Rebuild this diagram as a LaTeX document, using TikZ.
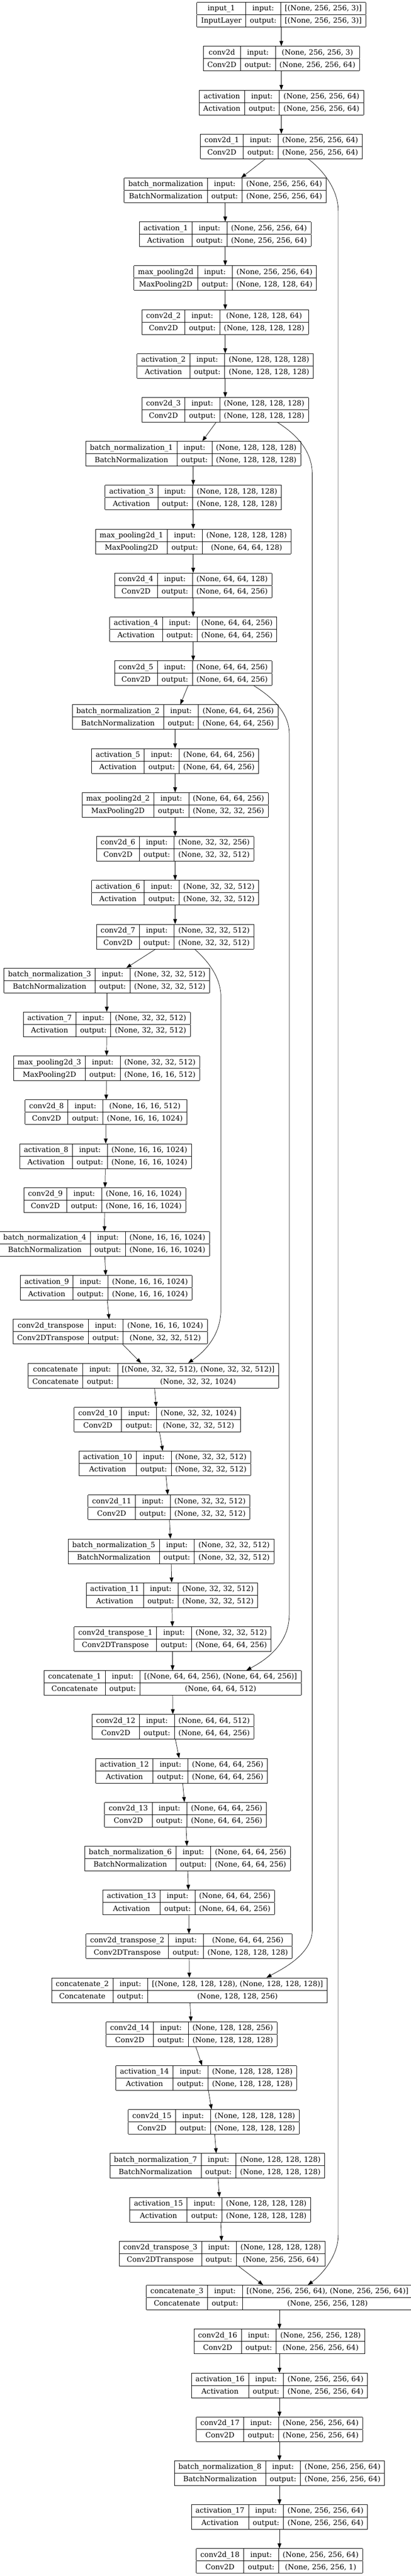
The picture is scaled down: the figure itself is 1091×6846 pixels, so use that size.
\documentclass[tikz,border=0pt]{standalone}
\usepackage{fontspec}
\setmainfont{DejaVu Serif}
\usetikzlibrary{arrows.meta,calc}
\setlength{\arrayrulewidth}{0.75pt}
\setlength{\tabcolsep}{8.25pt}
\newcommand{\rs}{\rule[-7.4pt]{0pt}{23.9pt}}
\newcommand{\lyr}[4]{\begin{tabular}{|c|c|c|}\hline\rs #1 & input: & #3\\\hline\rs #2 & output: & #4\\\hline\end{tabular}}
\begin{document}
\begin{tikzpicture}[x=0.75pt,y=-0.75pt,
  lbox/.style={inner sep=0pt, outer sep=0pt, font=\fontsize{14.4pt}{17pt}\selectfont},
  link/.style={line width=0.75pt, -{Triangle[length=10pt,width=7.5pt]}}]
\useasboundingbox (0,0) rectangle (1091,6846);
\node[lbox] (lay0) at (747,39.0){\lyr{input\_1}{InputLayer}{[(None, 256, 256, 3)]}{[(None, 256, 256, 3)]}};
\node[lbox] (lay1) at (747,155.7){\lyr{conv2d}{Conv2D}{(None, 256, 256, 3)}{(None, 256, 256, 64)}};
\node[lbox] (lay2) at (747,272.3){\lyr{activation}{Activation}{(None, 256, 256, 64)}{(None, 256, 256, 64)}};
\node[lbox] (lay3) at (747,389.0){\lyr{conv2d\_1}{Conv2D}{(None, 256, 256, 64)}{(None, 256, 256, 64)}};
\node[lbox] (lay4) at (598,505.7){\lyr{batch\_normalization}{BatchNormalization}{(None, 256, 256, 64)}{(None, 256, 256, 64)}};
\node[lbox] (lay5) at (598,622.4){\lyr{activation\_1}{Activation}{(None, 256, 256, 64)}{(None, 256, 256, 64)}};
\node[lbox] (lay6) at (598,739.0){\lyr{max\_pooling2d}{MaxPooling2D}{(None, 256, 256, 64)}{(None, 128, 128, 64)}};
\node[lbox] (lay7) at (598,855.7){\lyr{conv2d\_2}{Conv2D}{(None, 128, 128, 64)}{(None, 128, 128, 128)}};
\node[lbox] (lay8) at (598,972.4){\lyr{activation\_2}{Activation}{(None, 128, 128, 128)}{(None, 128, 128, 128)}};
\node[lbox] (lay9) at (598,1089.0){\lyr{conv2d\_3}{Conv2D}{(None, 128, 128, 128)}{(None, 128, 128, 128)}};
\node[lbox] (lay10) at (513,1205.7){\lyr{batch\_normalization\_1}{BatchNormalization}{(None, 128, 128, 128)}{(None, 128, 128, 128)}};
\node[lbox] (lay11) at (513,1322.4){\lyr{activation\_3}{Activation}{(None, 128, 128, 128)}{(None, 128, 128, 128)}};
\node[lbox] (lay12) at (513,1439.0){\lyr{max\_pooling2d\_1}{MaxPooling2D}{(None, 128, 128, 128)}{(None, 64, 64, 128)}};
\node[lbox] (lay13) at (513,1555.7){\lyr{conv2d\_4}{Conv2D}{(None, 64, 64, 128)}{(None, 64, 64, 256)}};
\node[lbox] (lay14) at (513,1672.4){\lyr{activation\_4}{Activation}{(None, 64, 64, 256)}{(None, 64, 64, 256)}};
\node[lbox] (lay15) at (513,1789.1){\lyr{conv2d\_5}{Conv2D}{(None, 64, 64, 256)}{(None, 64, 64, 256)}};
\node[lbox] (lay16) at (465,1905.7){\lyr{batch\_normalization\_2}{BatchNormalization}{(None, 64, 64, 256)}{(None, 64, 64, 256)}};
\node[lbox] (lay17) at (465,2022.4){\lyr{activation\_5}{Activation}{(None, 64, 64, 256)}{(None, 64, 64, 256)}};
\node[lbox] (lay18) at (465,2139.1){\lyr{max\_pooling2d\_2}{MaxPooling2D}{(None, 64, 64, 256)}{(None, 32, 32, 256)}};
\node[lbox] (lay19) at (465,2255.7){\lyr{conv2d\_6}{Conv2D}{(None, 32, 32, 256)}{(None, 32, 32, 512)}};
\node[lbox] (lay20) at (465,2372.4){\lyr{activation\_6}{Activation}{(None, 32, 32, 512)}{(None, 32, 32, 512)}};
\node[lbox] (lay21) at (465,2489.1){\lyr{conv2d\_7}{Conv2D}{(None, 32, 32, 512)}{(None, 32, 32, 512)}};
\node[lbox] (lay22) at (283.5,2605.7){\lyr{batch\_normalization\_3}{BatchNormalization}{(None, 32, 32, 512)}{(None, 32, 32, 512)}};
\node[lbox] (lay23) at (283.5,2722.4){\lyr{activation\_7}{Activation}{(None, 32, 32, 512)}{(None, 32, 32, 512)}};
\node[lbox] (lay24) at (283,2839.1){\lyr{max\_pooling2d\_3}{MaxPooling2D}{(None, 32, 32, 512)}{(None, 16, 16, 512)}};
\node[lbox] (lay25) at (281.5,2955.8){\lyr{conv2d\_8}{Conv2D}{(None, 16, 16, 512)}{(None, 16, 16, 1024)}};
\node[lbox] (lay26) at (280.4,3072.4){\lyr{activation\_8}{Activation}{(None, 16, 16, 1024)}{(None, 16, 16, 1024)}};
\node[lbox] (lay27) at (278.3,3189.1){\lyr{conv2d\_9}{Conv2D}{(None, 16, 16, 1024)}{(None, 16, 16, 1024)}};
\node[lbox] (lay28) at (277,3305.8){\lyr{batch\_normalization\_4}{BatchNormalization}{(None, 16, 16, 1024)}{(None, 16, 16, 1024)}};
\node[lbox] (lay29) at (282,3422.4){\lyr{activation\_9}{Activation}{(None, 16, 16, 1024)}{(None, 16, 16, 1024)}};
\node[lbox] (lay30) at (292.6,3539.1){\lyr{conv2d\_transpose}{Conv2DTranspose}{(None, 16, 16, 1024)}{(None, 32, 32, 512)}};
\node[lbox] (lay31) at (407.4,3655.8){\lyr{concatenate}{Concatenate}{[(None, 32, 32, 512), (None, 32, 32, 512)]}{(None, 32, 32, 1024)}};
\node[lbox] (lay32) at (417.8,3772.4){\lyr{conv2d\_10}{Conv2D}{(None, 32, 32, 1024)}{(None, 32, 32, 512)}};
\node[lbox] (lay33) at (437.7,3889.1){\lyr{activation\_10}{Activation}{(None, 32, 32, 512)}{(None, 32, 32, 512)}};
\node[lbox] (lay34) at (448.4,4005.8){\lyr{conv2d\_11}{Conv2D}{(None, 32, 32, 512)}{(None, 32, 32, 512)}};
\node[lbox] (lay35) at (454,4122.5){\lyr{batch\_normalization\_5}{BatchNormalization}{(None, 32, 32, 512)}{(None, 32, 32, 512)}};
\node[lbox] (lay36) at (456.4,4239.1){\lyr{activation\_11}{Activation}{(None, 32, 32, 512)}{(None, 32, 32, 512)}};
\node[lbox] (lay37) at (458.2,4355.8){\lyr{conv2d\_transpose\_1}{Conv2DTranspose}{(None, 32, 32, 512)}{(None, 64, 64, 256)}};
\node[lbox] (lay38) at (458.2,4472.5){\lyr{concatenate\_1}{Concatenate}{[(None, 64, 64, 256), (None, 64, 64, 256)]}{(None, 64, 64, 512)}};
\node[lbox] (lay39) at (459.2,4589.1){\lyr{conv2d\_12}{Conv2D}{(None, 64, 64, 512)}{(None, 64, 64, 256)}};
\node[lbox] (lay40) at (482.2,4705.8){\lyr{activation\_12}{Activation}{(None, 64, 64, 256)}{(None, 64, 64, 256)}};
\node[lbox] (lay41) at (492.6,4822.5){\lyr{conv2d\_13}{Conv2D}{(None, 64, 64, 256)}{(None, 64, 64, 256)}};
\node[lbox] (lay42) at (497.8,4939.1){\lyr{batch\_normalization\_6}{BatchNormalization}{(None, 64, 64, 256)}{(None, 64, 64, 256)}};
\node[lbox] (lay43) at (501,5055.8){\lyr{activation\_13}{Activation}{(None, 64, 64, 256)}{(None, 64, 64, 256)}};
\node[lbox] (lay44) at (502,5172.5){\lyr{conv2d\_transpose\_2}{Conv2DTranspose}{(None, 64, 64, 256)}{(None, 128, 128, 128)}};
\node[lbox] (lay45) at (503,5289.2){\lyr{concatenate\_2}{Concatenate}{[(None, 128, 128, 128), (None, 128, 128, 128)]}{(None, 128, 128, 256)}};
\node[lbox] (lay46) at (508.6,5405.8){\lyr{conv2d\_14}{Conv2D}{(None, 128, 128, 256)}{(None, 128, 128, 128)}};
\node[lbox] (lay47) at (547.6,5522.5){\lyr{activation\_14}{Activation}{(None, 128, 128, 128)}{(None, 128, 128, 128)}};
\node[lbox] (lay48) at (567.4,5639.2){\lyr{conv2d\_15}{Conv2D}{(None, 128, 128, 128)}{(None, 128, 128, 128)}};
\node[lbox] (lay49) at (576.8,5755.8){\lyr{batch\_normalization\_7}{BatchNormalization}{(None, 128, 128, 128)}{(None, 128, 128, 128)}};
\node[lbox] (lay50) at (584.8,5872.5){\lyr{activation\_15}{Activation}{(None, 128, 128, 128)}{(None, 128, 128, 128)}};
\node[lbox] (lay51) at (589.7,5989.2){\lyr{conv2d\_transpose\_3}{Conv2DTranspose}{(None, 128, 128, 128)}{(None, 256, 256, 64)}};
\node[lbox] (lay52) at (742,6105.8){\lyr{concatenate\_3}{Concatenate}{[(None, 256, 256, 64), (None, 256, 256, 64)]}{(None, 256, 256, 128)}};
\node[lbox] (lay53) at (742,6222.5){\lyr{conv2d\_16}{Conv2D}{(None, 256, 256, 128)}{(None, 256, 256, 64)}};
\node[lbox] (lay54) at (742,6339.2){\lyr{activation\_16}{Activation}{(None, 256, 256, 64)}{(None, 256, 256, 64)}};
\node[lbox] (lay55) at (742,6455.9){\lyr{conv2d\_17}{Conv2D}{(None, 256, 256, 64)}{(None, 256, 256, 64)}};
\node[lbox] (lay56) at (742,6572.5){\lyr{batch\_normalization\_8}{BatchNormalization}{(None, 256, 256, 64)}{(None, 256, 256, 64)}};
\node[lbox] (lay57) at (742,6689.2){\lyr{activation\_17}{Activation}{(None, 256, 256, 64)}{(None, 256, 256, 64)}};
\node[lbox] (lay58) at (742,6805.9){\lyr{conv2d\_18}{Conv2D}{(None, 256, 256, 64)}{(None, 256, 256, 1)}};
\draw[link](lay0) -- (lay1);
\draw[link](lay1) -- (lay2);
\draw[link](lay2) -- (lay3);
\draw[link](lay3) -- (lay4);
\draw[link](lay4) -- (lay5);
\draw[link](lay5) -- (lay6);
\draw[link](lay6) -- (lay7);
\draw[link](lay7) -- (lay8);
\draw[link](lay8) -- (lay9);
\draw[link](lay9) -- (lay10);
\draw[link](lay10) -- (lay11);
\draw[link](lay11) -- (lay12);
\draw[link](lay12) -- (lay13);
\draw[link](lay13) -- (lay14);
\draw[link](lay14) -- (lay15);
\draw[link](lay15) -- (lay16);
\draw[link](lay16) -- (lay17);
\draw[link](lay17) -- (lay18);
\draw[link](lay18) -- (lay19);
\draw[link](lay19) -- (lay20);
\draw[link](lay20) -- (lay21);
\draw[link](lay21) -- (lay22);
\draw[link](lay22) -- (lay23);
\draw[link](lay23) -- (lay24);
\draw[link](lay24) -- (lay25);
\draw[link](lay25) -- (lay26);
\draw[link](lay26) -- (lay27);
\draw[link](lay27) -- (lay28);
\draw[link](lay28) -- (lay29);
\draw[link](lay29) -- (lay30);
\draw[link](lay30) -- (lay31);
\draw[link](lay31) -- (lay32);
\draw[link](lay32) -- (lay33);
\draw[link](lay33) -- (lay34);
\draw[link](lay34) -- (lay35);
\draw[link](lay35) -- (lay36);
\draw[link](lay36) -- (lay37);
\draw[link](lay37) -- (lay38);
\draw[link](lay38) -- (lay39);
\draw[link](lay39) -- (lay40);
\draw[link](lay40) -- (lay41);
\draw[link](lay41) -- (lay42);
\draw[link](lay42) -- (lay43);
\draw[link](lay43) -- (lay44);
\draw[link](lay44) -- (lay45);
\draw[link](lay45) -- (lay46);
\draw[link](lay46) -- (lay47);
\draw[link](lay47) -- (lay48);
\draw[link](lay48) -- (lay49);
\draw[link](lay49) -- (lay50);
\draw[link](lay50) -- (lay51);
\draw[link](lay51) -- (lay52);
\draw[link](lay52) -- (lay53);
\draw[link](lay53) -- (lay54);
\draw[link](lay54) -- (lay55);
\draw[link](lay55) -- (lay56);
\draw[link](lay56) -- (lay57);
\draw[link](lay57) -- (lay58);
\coordinate (sk1a) at (898,560);
\coordinate (sk1b) at (898,5940);
\coordinate (sk2a) at (829,1260);
\coordinate (sk2b) at (829,5130);
\coordinate (sk3a) at (768,1950);
\coordinate (sk3b) at (768,4290);
\coordinate (sk4a) at (586.5,2650);
\coordinate (sk4b) at (586.5,3480);
\draw[link]($(lay3.south)+(71,0)$) .. controls (853,448) and (898,500) .. (sk1a) -- (sk1b) .. controls (898,5995) and (855,6045) .. ($(lay52.north)+(75.6,0)$);
\draw[link]($(lay9.south)+(138.5,0)$) .. controls (775,1147) and (829,1190) .. (sk2a) -- (sk2b) .. controls (829,5195) and (745,5235) .. ($(lay45.north)+(204.6,0)$);
\draw[link]($(lay15.south)+(161.2,0)$) .. controls (715,1848) and (768,1890) .. (sk3a) -- (sk3b) .. controls (768,4370) and (705,4412) .. ($(lay38.north)+(195.8,0)$);
\draw[link]($(lay21.south)+(51.7,0)$) .. controls (550,2552) and (586.5,2595) .. (sk4a) -- (sk4b) .. controls (586.5,3555) and (535,3598) .. ($(lay31.north)+(92.2,0)$);
\end{tikzpicture}
\end{document}
